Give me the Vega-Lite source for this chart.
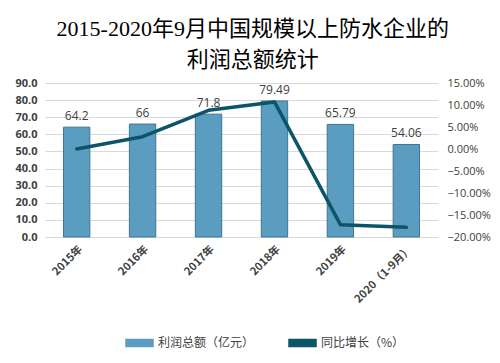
{
  "$schema": "https://vega.github.io/schema/vega-lite/v6.json",
  "width": 393,
  "height": 154,
  "autosize": "none",
  "padding": {"left": 45, "right": 62, "top": 83, "bottom": 126},
  "background": "white",
  "title": {
    "text": ["2015-2020年9月中国规模以上防水企业的", "利润总额统计"],
    "font": "Liberation Serif, Noto Sans CJK SC",
    "fontSize": 22,
    "fontWeight": "normal",
    "color": "#000000",
    "lineHeight": 31,
    "anchor": "middle",
    "frame": "bounds",
    "offset": 5
  },
  "data": {
    "values": [
      {"year": "2015年", "profit": 64.2, "growth": 0.000},
      {"year": "2016年", "profit": 66, "growth": 0.028},
      {"year": "2017年", "profit": 71.8, "growth": 0.088},
      {"year": "2018年", "profit": 79.49, "growth": 0.107},
      {"year": "2019年", "profit": 65.79, "growth": -0.172},
      {"year": "2020（1-9月）", "profit": 54.06, "growth": -0.178}
    ]
  },
  "encoding": {
    "x": {
      "field": "year",
      "type": "nominal",
      "sort": null,
      "title": null,
      "scale": {"paddingInner": 0.6, "paddingOuter": 0.28},
      "axis": {
        "labelAngle": -45,
        "labelFontWeight": "bold",
        "labelFontSize": 11,
        "labelColor": "#404040",
        "labelFont": "Noto Sans CJK SC",
        "ticks": false,
        "domainColor": "#d9d9d9",
        "labelPadding": 6
      }
    }
  },
  "layer": [
    {
      "mark": {"type": "bar", "stroke": "#3f7490", "strokeWidth": 1},
      "encoding": {
        "y": {
          "field": "profit",
          "type": "quantitative",
          "title": null,
          "scale": {"domain": [0, 90]},
          "axis": {
            "values": [0, 10, 20, 30, 40, 50, 60, 70, 80, 90],
            "format": ".1f",
            "domain": false,
            "ticks": false,
            "gridColor": "#d9d9d9",
            "labelFontWeight": "bold",
            "labelFontSize": 11,
            "labelColor": "#404040",
            "labelPadding": 8
          }
        },
        "color": {
          "datum": "利润总额（亿元）",
          "type": "nominal",
          "scale": {
            "domain": ["利润总额（亿元）", "同比增长（%）"],
            "range": ["#5b9dc0", "#0c5569"]
          },
          "legend": {
            "title": null,
            "orient": "none",
            "legendX": 80,
            "legendY": 245,
            "direction": "horizontal",
            "labelFontSize": 12,
            "labelColor": "#404040",
            "labelFont": "Noto Sans CJK SC",
            "columnPadding": 31,
            "symbolSize": 729,
            "symbolType": "M-1,-0.26H1V0.26H-1Z"
          }
        }
      }
    },
    {
      "mark": {"type": "text", "dy": -11, "fontSize": 12, "color": "#404040", "font": "Open Sans"},
      "encoding": {
        "y": {"field": "profit", "type": "quantitative", "scale": {"domain": [0, 90]}, "axis": null},
        "text": {"field": "profit", "type": "quantitative"}
      }
    },
    {
      "mark": {"type": "line", "strokeWidth": 3.5, "strokeCap": "round", "strokeJoin": "round"},
      "encoding": {
        "y": {
          "field": "growth",
          "type": "quantitative",
          "title": null,
          "scale": {"domain": [-0.2, 0.15]},
          "axis": {
            "orient": "right",
            "values": [-0.2, -0.15, -0.1, -0.05, 0, 0.05, 0.1, 0.15],
            "format": ".2%",
            "grid": false,
            "domain": false,
            "ticks": false,
            "labelFontSize": 11,
            "labelColor": "#404040",
            "labelPadding": 9
          }
        },
        "color": {"datum": "同比增长（%）", "type": "nominal"}
      }
    }
  ],
  "resolve": {"scale": {"y": "independent"}},
  "config": {
    "view": {"stroke": null},
    "font": "Open Sans"
  }
}
